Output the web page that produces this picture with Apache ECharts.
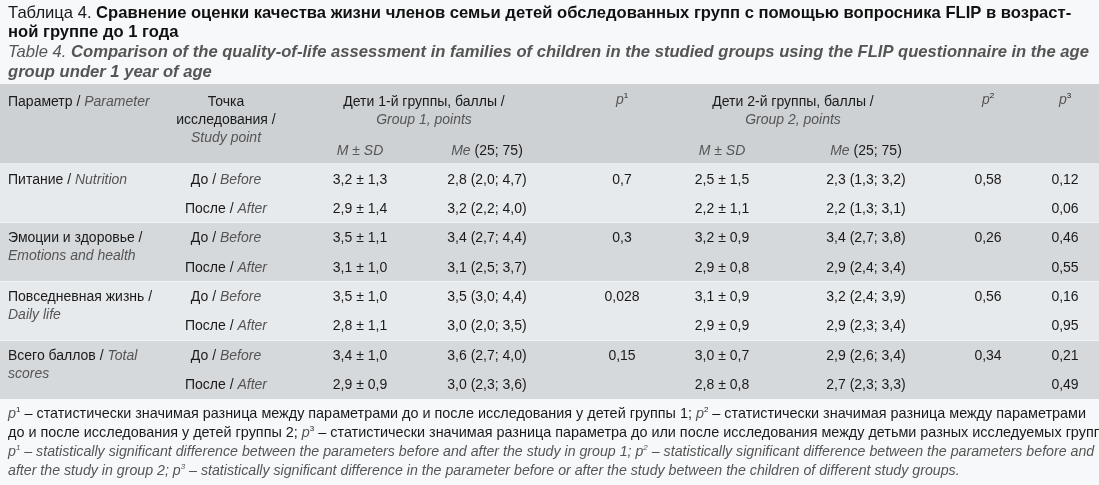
<!DOCTYPE html>
<html>
<head>
<meta charset="utf-8">
<script src="https://cdn.jsdelivr.net/npm/echarts@6/dist/echarts.min.js"></script>
<style>html,body{margin:0;padding:0;background:#f7f8fa}#main{width:1099px;height:485px}</style>
</head>
<body>
<div id="main"></div>
<script>
// rows of the table
var params = [
    ["Питание / ", "Nutrition", ""],
    ["Эмоции и здоровье /", "", "Emotions and health"],
    ["Повседневная жизнь /", "", "Daily life"],
    ["Всего баллов / ", "Total", "scores"]
];
var points = [["До", "Before"], ["После", "After"]];
var g1Mean = ["3,2 ± 1,3", "2,9 ± 1,4", "3,5 ± 1,1", "3,1 ± 1,0", "3,5 ± 1,0", "2,8 ± 1,1", "3,4 ± 1,0", "2,9 ± 0,9"];
var g1Me = ["2,8 (2,0; 4,7)", "3,2 (2,2; 4,0)", "3,4 (2,7; 4,4)", "3,1 (2,5; 3,7)", "3,5 (3,0; 4,4)", "3,0 (2,0; 3,5)", "3,6 (2,7; 4,0)", "3,0 (2,3; 3,6)"];
var p1 = ["0,7", "0,3", "0,028", "0,15"];
var g2Mean = ["2,5 ± 1,5", "2,2 ± 1,1", "3,2 ± 0,9", "2,9 ± 0,8", "3,1 ± 0,9", "2,9 ± 0,9", "3,0 ± 0,7", "2,8 ± 0,8"];
var g2Me = ["2,3 (1,3; 3,2)", "2,2 (1,3; 3,1)", "3,4 (2,7; 3,8)", "2,9 (2,4; 3,4)", "3,2 (2,4; 3,9)", "2,9 (2,3; 3,4)", "2,9 (2,6; 3,4)", "2,7 (2,3; 3,3)"];
var p2 = ["0,58", "0,26", "0,56", "0,34"];
var p3 = ["0,12", "0,06", "0,46", "0,55", "0,16", "0,95", "0,21", "0,49"];

var F = '"Liberation Sans", Arial, sans-serif';
var FN = '"Liberation Sans Narrow", "Liberation Sans", Arial, sans-serif';
var els = [];

function txt(x, y, rich, align, font, size) {
    var sz = size || 14;
    var ff = font || F;
    els.push({
        type: 'text', x: x, y: y,
        style: {
            text: rich, align: align || 'left', verticalAlign: 'middle',
            font: sz + 'px ' + ff, fill: '#1a1a1a',
            rich: {
                i: {fontStyle: 'italic', fill: '#555', fontSize: sz, fontFamily: ff},
                b: {fontWeight: 'bold', fill: '#111', fontSize: sz, fontFamily: ff},
                bi: {fontWeight: 'bold', fontStyle: 'italic', fill: '#555', fontSize: sz, fontFamily: ff},
                s: {fontSize: 8, fontFamily: ff, padding: [0, 0, 8, 0]},
                si: {fontSize: 8, fontStyle: 'italic', fill: '#555', fontFamily: ff, padding: [0, 0, 8, 0]}
            }
        }
    });
}
function rect(y, h, color) {
    els.push({type: 'rect', shape: {x: 0, y: y, width: 1099, height: h}, style: {fill: color}});
}

// backgrounds
rect(84, 79, '#cdd1d4');
for (var k = 0; k < 4; k++) rect(163 + k * 59, 59, k % 2 ? '#d6d9dc' : '#e7eaec');
rect(222, 1, '#f2f3f4'); rect(281, 1, '#f2f3f4'); rect(340, 1, '#f2f3f4');

// title
txt(8, 13, 'Таблица 4. {b|Сравнение оценки качества жизни членов семьи детей обследованных групп с помощью вопросника FLIP в возраст-}', 'left', F, 16.6);
txt(8, 32, '{b|ной группе до 1 года}', 'left', F, 16.6);
txt(8, 52, '{i|Table 4.} {bi|Comparison of the quality-of-life assessment in families of children in the studied groups using the FLIP questionnaire in the age}', 'left', F, 16.6);
txt(8, 72, '{bi|group under 1 year of age}', 'left', F, 16.6);

// header
txt(8, 102, 'Параметр / {i|Parameter}');
txt(226, 102, 'Точка', 'center');
txt(226, 120, 'исследования /', 'center');
txt(226, 138, '{i|Study point}', 'center');
txt(424, 102, 'Дети 1-й группы, баллы /', 'center');
txt(424, 120, '{i|Group 1, points}', 'center');
txt(793, 102, 'Дети 2-й группы, баллы /', 'center');
txt(793, 120, '{i|Group 2, points}', 'center');
txt(622, 100, '{i|p}{s|1}', 'center');
txt(988, 100, '{i|p}{s|2}', 'center');
txt(1065, 100, '{i|p}{s|3}', 'center');
txt(360, 151, '{i|M ± SD}', 'center');
txt(487, 151, '{i|Me} (25; 75)', 'center');
txt(722, 151, '{i|M ± SD}', 'center');
txt(866, 151, '{i|Me} (25; 75)', 'center');

// body
for (var r = 0; r < 8; r++) {
    var y = 180 + r * 29.3;
    var gi = Math.floor(r / 2);
    var pt = points[r % 2];
    txt(226, y, pt[0] + ' / {i|' + pt[1] + '}', 'center');
    txt(360, y, g1Mean[r], 'center');
    txt(487, y, g1Me[r], 'center');
    txt(722, y, g2Mean[r], 'center');
    txt(866, y, g2Me[r], 'center');
    txt(1065, y, p3[r], 'center');
    if (r % 2 === 0) {
        var p = params[gi];
        txt(8, y, p[0] + (p[1] ? '{i|' + p[1] + '}' : ''));
        if (p[2]) txt(8, y + 18, '{i|' + p[2] + '}');
        txt(622, y, p1[gi], 'center');
        txt(988, y, p2[gi], 'center');
    }
}

// footnotes
txt(8, 414, '{i|p}{s|1} – статистически значимая разница между параметрами до и после исследования у детей группы 1; {i|p}{s|2} – статистически значимая разница между параметрами', 'left', FN, 14.4);
txt(8, 433, 'до и после исследования у детей группы 2; {i|p}{s|3} – статистически значимая разница параметра до или после исследования между детьми разных исследуемых групп.', 'left', FN, 14.4);
txt(8, 452, '{i|p}{si|1}{i| – statistically significant difference between the parameters before and after the study in group 1; p}{si|2}{i| – statistically significant difference between the parameters before and}', 'left', FN, 14.2);
txt(8, 471, '{i|after the study in group 2; p}{si|3}{i| – statistically significant difference in the parameter before or after the study between the children of different study groups.}', 'left', FN, 14.2);

var chart = echarts.init(document.getElementById('main'));
chart.setOption({backgroundColor: '#f7f8fa', graphic: {elements: els}});
</script>
</body>
</html>
